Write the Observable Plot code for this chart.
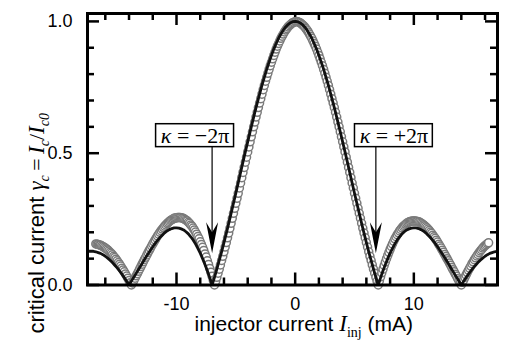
<!DOCTYPE html>
<html><head><meta charset="utf-8">
<script src="https://cdn.jsdelivr.net/npm/d3@7"></script>
<script src="https://cdn.jsdelivr.net/npm/@observablehq/plot@0.6"></script>
<style>body{margin:0;background:#fff} svg{display:block}</style>
</head><body><div id="chart"></div><script>
// ---- tick labels ----
const xMajor = [-10, 0, 10];
const xMinor = [-16,-14,-12,-8,-6,-4,-2,2,4,6,8,12,14,16];
const yMajor = [0, 0.5, 1.0];
const yMinor = [0.1,0.2,0.3,0.4,0.6,0.7,0.8,0.9];

// ---- theory curve (black line) ----
const blackX = [-17.6,-17.4,-17.2,-17,-16.8,-16.6,-16.4,-16.2,-16,-15.8,-15.6,-15.4,-15.2,-15,-14.8,-14.6,-14.4,-14.2,-14,
-13.8,-13.6,-13.4,-13.2,-13,-12.8,-12.6,-12.4,-12.2,-12,-11.8,-11.6,-11.4,-11.2,-11,-10.8,-10.6,-10.4,-10.2,-10,-9.8,-9.6,-9.4,-9.2,-9,-8.8,-8.6,-8.4,-8.2,-8,-7.8,-7.6,-7.4,-7.2,-7,
-6.8,-6.6,-6.4,-6.2,-6,-5.8,-5.6,-5.4,-5.2,-5,-4.8,-4.6,-4.4,-4.2,-4,-3.8,-3.6,-3.4,-3.2,-3,-2.8,-2.6,-2.4,-2.2,-2,-1.8,-1.6,-1.4,-1.2,-1,-0.8,-0.6,-0.4,-0.2,0,
0.2,0.4,0.6,0.8,1,1.2,1.4,1.6,1.8,2,2.2,2.4,2.6,2.8,3,3.2,3.4,3.6,3.8,4,4.2,4.4,4.6,4.8,5,5.2,5.4,5.6,5.8,6,6.2,6.4,6.6,6.8,7,
7.2,7.4,7.6,7.8,8,8.2,8.4,8.6,8.8,9,9.2,9.4,9.6,9.8,10,10.2,10.4,10.6,10.8,11,11.2,11.4,11.6,11.8,12,12.2,12.4,12.6,12.8,13,13.2,13.4,13.6,13.8,14,
14.2,14.4,14.6,14.8,15,15.2,15.4,15.6,15.8,16,16.2,16.4,16.6,16.8,17,17.2];
const blackY = [0.127,0.128,0.128,0.128,0.126,0.123,0.120,0.115,0.109,0.102,0.094,0.085,0.075,0.065,0.053,0.041,0.028,0.014,0,
0.015,0.029,0.044,0.059,0.074,0.089,0.104,0.118,0.132,0.145,0.158,0.169,0.180,0.189,0.198,0.205,0.210,0.214,0.217,0.217,0.216,0.213,0.209,0.202,0.194,0.183,0.171,0.156,0.139,0.121,0.100,0.078,0.054,0.028,0,
0.029,0.060,0.093,0.126,0.161,0.197,0.234,0.272,0.310,0.348,0.387,0.427,0.466,0.505,0.543,0.581,0.618,0.655,0.690,0.724,0.757,0.788,0.818,0.845,0.871,0.895,0.916,0.936,0.952,0.967,0.979,0.988,0.995,0.999,1.000,
0.999,0.995,0.988,0.979,0.967,0.952,0.936,0.916,0.895,0.871,0.845,0.818,0.788,0.757,0.724,0.690,0.655,0.618,0.581,0.543,0.505,0.466,0.427,0.387,0.348,0.310,0.272,0.234,0.197,0.161,0.126,0.093,0.060,0.029,0,
0.028,0.054,0.078,0.100,0.121,0.139,0.156,0.171,0.183,0.194,0.202,0.209,0.213,0.216,0.217,0.217,0.214,0.210,0.205,0.198,0.189,0.180,0.169,0.158,0.145,0.132,0.118,0.104,0.089,0.074,0.059,0.044,0.029,0.015,0,
0.014,0.028,0.041,0.053,0.065,0.075,0.085,0.094,0.102,0.109,0.115,0.120,0.123,0.126,0.128,0.128];

// ---- measured points (grey circles) ----
const grayX = [-16.8,-16.7,-16.6,-16.5,-16.4,-16.3,-16.2,-16.1,-16,-15.9,-15.8,-15.7,-15.6,-15.5,-15.4,-15.3,-15.2,-15.1,-15,-14.9,-14.8,-14.7,-14.6,-14.5,-14.4,-14.3,-14.2,-14.1,-14,-13.9,-13.8,
-13.7,-13.6,-13.5,-13.4,-13.3,-13.2,-13.1,-13,-12.9,-12.8,-12.7,-12.6,-12.5,-12.4,-12.3,-12.2,-12.1,-12,-11.9,-11.8,-11.7,-11.6,-11.5,-11.4,-11.3,-11.2,-11.1,-11,-10.9,-10.8,-10.7,-10.6,-10.5,-10.4,-10.3,-10.2,-10.1,-10,-9.9,-9.8,-9.7,-9.6,-9.5,-9.4,-9.3,-9.2,-9.1,-9,-8.9,-8.8,-8.7,-8.6,
-8.5,-8.4,-8.3,-8.2,-8.1,-8,-7.9,-7.8,-7.7,-7.6,-7.5,-7.4,-7.3,-7.2,-7.1,-7,-6.9,-6.8,
-6.7,-6.6,-6.5,-6.4,-6.3,-6.2,-6.1,-6,-5.9,-5.8,-5.7,-5.6,-5.5,-5.4,-5.3,-5.2,-5.1,-5,-4.9,-4.8,-4.7,-4.6,-4.5,-4.4,-4.3,-4.2,-4.1,-4,-3.9,-3.8,-3.7,-3.6,-3.5,-3.4,-3.3,-3.2,-3.1,-3,-2.9,-2.8,-2.7,-2.6,-2.5,-2.4,-2.3,-2.2,-2.1,-2,-1.9,-1.8,-1.7,-1.6,-1.5,-1.4,-1.3,-1.2,-1.1,-1,-0.9,-0.8,-0.7,-0.6,-0.5,-0.4,-0.3,-0.2,-0.1,0,
0.1,0.2,0.3,0.4,0.5,0.6,0.7,0.8,0.9,1,1.1,1.2,1.3,1.4,1.5,1.6,1.7,1.8,1.9,2,2.1,2.2,2.3,2.4,2.5,2.6,2.7,2.8,2.9,3,3.1,3.2,3.3,3.4,3.5,3.6,3.7,3.8,3.9,4,4.1,4.2,4.3,4.4,4.5,4.6,4.7,4.8,4.9,5,5.1,5.2,5.3,5.4,5.5,5.6,5.7,5.8,5.9,6,6.1,6.2,6.3,6.4,6.5,6.6,6.7,6.8,6.9,7,
7.1,7.2,7.3,7.4,7.5,7.6,7.7,7.8,7.9,8,8.1,8.2,8.3,8.4,8.5,8.6,
8.7,8.8,8.9,9,9.1,9.2,9.3,9.4,9.5,9.6,9.7,9.8,9.9,10,10.1,10.2,10.3,10.4,10.5,10.6,10.7,10.8,10.9,11,11.1,11.2,11.3,11.4,11.5,11.6,11.7,11.8,11.9,12,12.1,12.2,12.3,12.4,12.5,12.6,12.7,12.8,12.9,13,13.1,13.2,13.3,13.4,13.5,13.6,13.7,13.8,13.9,14,
14.1,14.2,14.3,14.4,14.5,14.6,14.7,14.8,14.9,15,15.1,15.2,15.3,15.4,15.5,15.6,15.7,15.8,15.9,16,16.1,16.2,16.3];
const grayY = [0.156,0.155,0.154,0.152,0.151,0.148,0.146,0.143,0.140,0.137,0.133,0.129,0.124,0.120,0.115,0.109,0.104,0.098,0.092,0.085,0.079,0.072,0.064,0.057,0.050,0.042,0.034,0.026,0.017,0.009,0,
0.008,0.017,0.026,0.035,0.043,0.052,0.061,0.070,0.079,0.088,0.097,0.105,0.114,0.123,0.131,0.139,0.148,0.156,0.164,0.171,0.179,0.186,0.193,0.200,0.206,0.212,0.218,0.223,0.228,0.233,0.237,0.241,0.245,0.248,0.250,0.253,0.254,0.255,0.256,0.256,0.256,0.255,0.254,0.252,0.249,0.246,0.243,0.238,0.234,0.228,0.223,0.216,
0.209,0.201,0.193,0.184,0.175,0.164,0.154,0.143,0.131,0.118,0.106,0.092,0.078,0.063,0.048,0.033,0.017,0,
0.014,0.029,0.045,0.060,0.076,0.093,0.109,0.126,0.144,0.161,0.179,0.197,0.215,0.234,0.253,0.272,0.291,0.310,0.329,0.348,0.368,0.387,0.407,0.427,0.446,0.466,0.485,0.505,0.524,0.543,0.562,0.581,0.600,0.618,0.637,0.655,0.673,0.690,0.707,0.724,0.741,0.757,0.773,0.788,0.803,0.818,0.832,0.845,0.858,0.871,0.883,0.895,0.906,0.916,0.926,0.936,0.944,0.952,0.960,0.967,0.973,0.979,0.984,0.988,0.992,0.995,0.997,0.999,
1.000,0.999,0.997,0.995,0.992,0.988,0.984,0.979,0.973,0.967,0.960,0.952,0.944,0.936,0.926,0.916,0.906,0.895,0.883,0.871,0.858,0.845,0.832,0.818,0.803,0.788,0.773,0.757,0.741,0.724,0.707,0.690,0.673,0.655,0.637,0.618,0.600,0.581,0.562,0.543,0.524,0.505,0.485,0.466,0.446,0.427,0.407,0.387,0.368,0.348,0.329,0.310,0.291,0.272,0.253,0.234,0.215,0.197,0.179,0.161,0.144,0.126,0.109,0.093,0.076,0.060,0.045,0.029,0.014,0,
0.016,0.031,0.046,0.060,0.074,0.087,0.100,0.112,0.124,0.135,0.146,0.156,0.166,0.175,0.183,0.191,
0.198,0.205,0.211,0.217,0.222,0.226,0.230,0.234,0.237,0.239,0.241,0.242,0.243,0.243,0.243,0.242,0.241,0.240,0.238,0.235,0.232,0.229,0.225,0.221,0.217,0.212,0.207,0.201,0.196,0.189,0.183,0.177,0.170,0.163,0.155,0.148,0.140,0.132,0.124,0.116,0.108,0.100,0.092,0.083,0.075,0.066,0.058,0.050,0.041,0.033,0.024,0.016,0.008,0,
0.010,0.019,0.029,0.038,0.047,0.056,0.064,0.072,0.081,0.088,0.096,0.103,0.110,0.116,0.123,0.129,0.134,0.140,0.145,0.149,0.153,0.157,0.160];

// ---- annotations ----
const annotLabels = ["κ = −2π", "κ = +2π"];
const annotArrowX = [-7.0, 6.8];
const annotBoxX1 = [-11.72, 5.04];
const annotBoxX2 = [-5.15, 11.6];

const black = blackX.map((x, i) => ({x, y: blackY[i]}));
const gray = grayX.map((x, i) => ({x, y: grayY[i]}));
const annots = annotLabels.map((label, i) => ({label, ax: annotArrowX[i], bx1: annotBoxX1[i], bx2: annotBoxX2[i]}));

const W = 505, H = 343, ML = 87, MR = 8, MT = 13, MB = 58.5;
const FW = W - ML - MR, FH = H - MT - MB;
const boxY1 = 0.523, boxY2 = 0.610, tipY = 0.12;

const arrowHead = {
  draw(ctx) {
    ctx.moveTo(0, 0);
    ctx.lineTo(-6, -31);
    ctx.lineTo(0, -21);
    ctx.lineTo(6, -31);
    ctx.closePath();
  }
};

const serif = "Liberation Serif, Times New Roman, serif";
const sans = "Liberation Sans, Arial, sans-serif";

const chart = Plot.plot({
  width: W, height: H,
  marginLeft: ML, marginRight: MR, marginTop: MT, marginBottom: MB,
  style: {fontFamily: sans, fontSize: "18px", color: "#000", background: "#fff"},
  x: {domain: [-17.5, 17.05]},
  y: {domain: [0, 1.03]},
  marks: [
    Plot.axisX({ticks: xMajor, tickSize: 0, tickPadding: 12, tickFormat: d => String(d), label: null, fontSize: 18}),
    Plot.axisY({ticks: yMajor, tickSize: 0, tickPadding: 15, tickFormat: d3.format(".1f"), label: null, fontSize: 18}),
    // inward ticks on all four sides
    Plot.tickX(xMajor, {x: d => d, insetTop: FH - 12, stroke: "#000", strokeWidth: 2.5}),
    Plot.tickX(xMajor, {x: d => d, insetBottom: FH - 12, stroke: "#000", strokeWidth: 2.5}),
    Plot.tickX(xMinor, {x: d => d, insetTop: FH - 7, stroke: "#000", strokeWidth: 2.5}),
    Plot.tickX(xMinor, {x: d => d, insetBottom: FH - 7, stroke: "#000", strokeWidth: 2.5}),
    Plot.tickY(yMajor, {y: d => d, insetRight: FW - 12, stroke: "#000", strokeWidth: 2.5}),
    Plot.tickY(yMajor, {y: d => d, insetLeft: FW - 12, stroke: "#000", strokeWidth: 2.5}),
    Plot.tickY(yMinor, {y: d => d, insetRight: FW - 7, stroke: "#000", strokeWidth: 2.5}),
    Plot.tickY(yMinor, {y: d => d, insetLeft: FW - 7, stroke: "#000", strokeWidth: 2.5}),
    // measured data
    Plot.dot(gray, {x: "x", y: "y", r: 4, fill: "#fff", stroke: "#7a7a7a", strokeWidth: 1.5}),
    // theory
    Plot.line(black, {x: "x", y: "y", stroke: "#111", strokeWidth: 2.8, clip: true}),
    // arrows
    Plot.ruleX(annots, {x: "ax", y1: boxY1, y2: tipY + 0.06, stroke: "#000", strokeWidth: 1.2}),
    Plot.dot(annots, {x: "ax", y: tipY, symbol: arrowHead, r: 5, fill: "#000", stroke: "none"}),
    // boxes
    Plot.rect(annots, {x1: "bx1", x2: "bx2", y1: boxY1, y2: boxY2, fill: "#fff", stroke: "#000", strokeWidth: 1.5}),
    Plot.text(annots, {x: d => (d.bx1 + d.bx2) / 2, y: (boxY1 + boxY2) / 2, text: "label", fontFamily: serif, fontSize: 22, fill: "#000"}),
    Plot.frame({stroke: "#000", strokeWidth: 3}),
    // axis titles
    Plot.text(["injector current"], {frameAnchor: "bottom-left", dx: 107, dy: 45.5, lineAnchor: "bottom", textAnchor: "start", fontSize: 21, fill: "#000"}),
    Plot.text(["critical current"], {frameAnchor: "left", dx: -44, dy: 184.25, rotate: -90, lineAnchor: "bottom", textAnchor: "start", fontSize: 22, fill: "#000"})
  ]
});

function rich(textEl, parts) {
  textEl.textContent = "";
  for (const p of parts) {
    const ts = document.createElementNS("http://www.w3.org/2000/svg", "tspan");
    ts.textContent = p.t;
    if (p.f) ts.setAttribute("font-family", p.f);
    if (p.s) ts.setAttribute("font-size", p.s);
    if (p.i) ts.setAttribute("font-style", "italic");
    if (p.dy) ts.setAttribute("dy", p.dy);
    textEl.appendChild(ts);
  }
}

chart.querySelectorAll("text").forEach((t) => {
  const s = t.textContent;
  if (s.startsWith("κ")) {
    rich(t, [{t: "κ", i: true, f: serif}, {t: s.slice(1), f: serif}]);
  } else if (s === "injector current") {
    rich(t, [
      {t: "injector current ", f: sans, s: 21},
      {t: "I", f: serif, s: 23, i: true},
      {t: "inj", f: serif, s: 14, dy: 6},
      {t: " (mA)", f: sans, s: 21, dy: -6}
    ]);
  } else if (s === "critical current") {
    rich(t, [
      {t: "critical current ", f: sans, s: 22},
      {t: "γ", f: serif, s: 23, i: true},
      {t: "c", f: serif, s: 14, i: true, dy: 5},
      {t: "\u2009=\u2009", f: serif, s: 22, dy: -5},
      {t: "I", f: serif, s: 23, i: true},
      {t: "c", f: serif, s: 14, i: true, dy: 5},
      {t: "/", f: serif, s: 22, dy: -5},
      {t: "I", f: serif, s: 23, i: true},
      {t: "c0", f: serif, s: 14, i: true, dy: 5}
    ]);
  }
});

document.getElementById("chart").appendChild(chart);
</script></body></html>
